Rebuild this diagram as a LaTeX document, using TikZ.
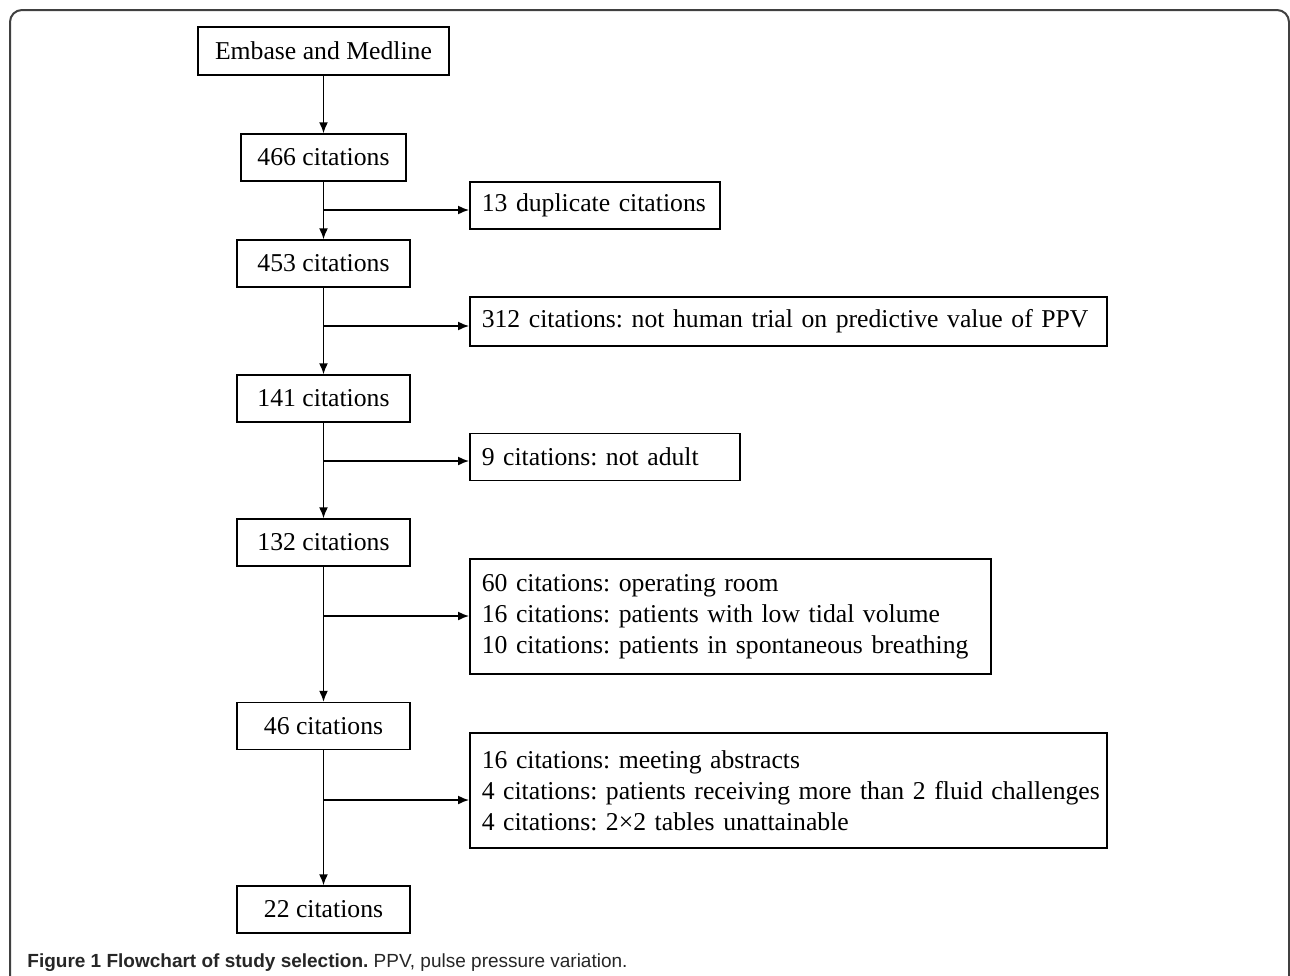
\documentclass[tikz,border=0pt]{standalone}
\usepackage{fontspec}
\setmainfont{Liberation Serif}
\newfontfamily\capfont{Liberation Sans}
\usetikzlibrary{arrows.meta}
\begin{document}
\frenchspacing
\begin{tikzpicture}[x=0.5pt, y=-0.5pt, >={Latex[length=5.5pt,width=4.5pt]},
    box/.style={draw, line width=0.75pt, minimum height=23.5pt, inner sep=0pt,
        font=\fontsize{12.85}{15.5}\selectfont},
    sidebox/.style={box, anchor=west, align=left, inner xsep=6pt},
    flow/.style={line width=0.75pt}]
\useasboundingbox (0,0) rectangle (1290,975);
\draw[black!75, line width=1pt, rounded corners=6pt] (10,1000)--(10,10)--(1289,10)--(1289,1000);
% main column
\node[box, minimum width=125.5pt, minimum height=24pt] (src) at (323.5,51) {Embase and Medline};
\node[box, minimum width=82.5pt] (n466) at (323.5,157.5) {466 citations};
\node[box, minimum width=86.5pt] (n453) at (323.5,263.5) {453 citations};
\node[box, minimum width=86.5pt] (n141) at (323.5,398.5) {141 citations};
\node[box, minimum width=86.5pt] (n132) at (323.5,542.5) {132 citations};
\node[box, minimum width=86.5pt] (n46) at (323.5,726) {46 citations};
\node[box, minimum width=86.5pt] (n22) at (323.5,909.5) {22 citations};
% excluded
\node[sidebox, text width=113pt] (dup) at (469,205.5) {13 duplicate citations};
\node[sidebox, text width=306.5pt, minimum height=24.5pt] (exA) at (469,321.5) {312 citations: not human trial on predictive value of PPV};
\node[sidebox, text width=123pt] (exB) at (469,457) {9 citations: not adult};
\node[sidebox, text width=248.5pt, minimum height=57.5pt] (exC) at (469,616.5) {60 citations: operating room\\16 citations: patients with low tidal volume\\10 citations: patients in spontaneous breathing};
\node[sidebox, text width=306.5pt, minimum height=57.5pt] (exD) at (469,790.5) {16 citations: meeting abstracts\\\mbox{4 citations: patients receiving more than 2 fluid challenges}\\4 citations: 2×2 tables unattainable};
\coordinate (b1) at (323.5,210);
\coordinate (b2) at (323.5,326);
\coordinate (b3) at (323.5,461);
\coordinate (b4) at (323.5,616);
\coordinate (b5) at (323.5,800);
\draw[flow, ->] (src)--(n466);
\draw[flow, ->] (n466)--(n453);
\draw[flow, ->] (n453)--(n141);
\draw[flow, ->] (n141)--(n132);
\draw[flow, ->] (n132)--(n46);
\draw[flow, ->] (n46)--(n22);
\draw[flow, ->] (b1)--(b1 -| dup.west);
\draw[flow, ->] (b2)--(b2 -| exA.west);
\draw[flow, ->] (b3)--(b3 -| exB.west);
\draw[flow, ->] (b4)--(b4 -| exC.west);
\draw[flow, ->] (b5)--(b5 -| exD.west);
\node[anchor=base west, inner sep=0pt, text=black!85, font=\capfont\fontsize{9.5}{11}\selectfont] (cap) at (27,967)
    {\textbf{Figure 1 Flowchart of study selection.} PPV, pulse pressure variation.};
\end{tikzpicture}
\end{document}
